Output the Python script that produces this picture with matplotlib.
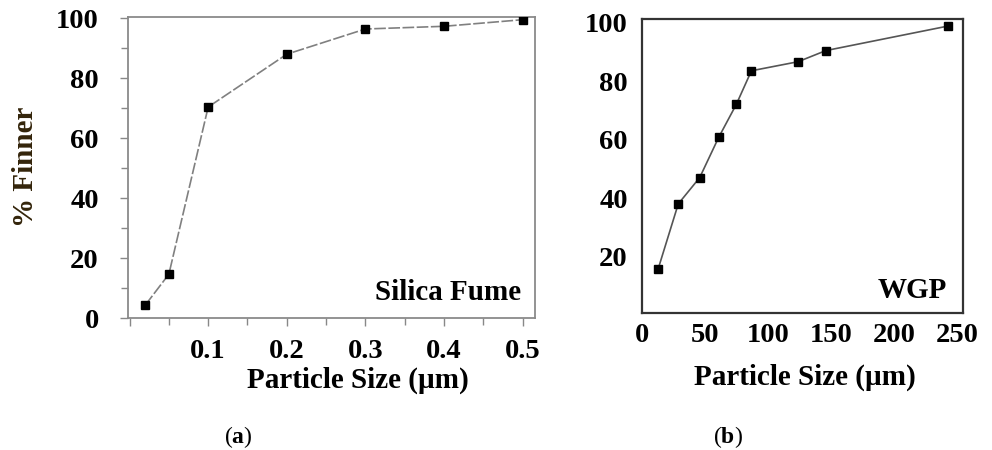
import matplotlib.pyplot as plt
import matplotlib.ticker as mticker

plt.rcParams['font.family'] = ['Liberation Serif', 'DejaVu Serif']
plt.rcParams['mathtext.fontset'] = 'custom'
plt.rcParams['mathtext.bf'] = 'Liberation Serif:bold'
plt.rcParams['mathtext.rm'] = 'Liberation Serif'

# silica fume (a)
sf_size = [0.02, 0.05, 0.1, 0.2, 0.3, 0.4, 0.5]
sf_finer = [4.4, 14.7, 70.4, 88.0, 96.4, 97.3, 99.5]
sf_xticks = [0, 0.1, 0.2, 0.3, 0.4, 0.5]
sf_xlabels = ['', '0.1', '0.2', '0.3', '0.4', '0.5']
sf_yticks = [0, 20, 40, 60, 80, 100]

# waste glass powder (b)
wgp_size = [13, 29, 46, 61, 75, 87, 124, 146, 243]
wgp_finer = [15.7, 38.0, 47.0, 60.7, 72.0, 83.5, 86.6, 90.4, 98.8]
wgp_xticks = [0, 50, 100, 150, 200, 250]
wgp_yticks = [20, 40, 60, 80, 100]

W, H = 992, 450
fig = plt.figure(figsize=(W / 100, H / 100), dpi=100)

def box(l, t, r, b):
    return [l / W, 1 - b / H, (r - l) / W, (b - t) / H]

tick_font = dict(fontsize=20.5, fontweight='bold')
lab_font = dict(fontsize=21, fontweight='bold')

# ---- (a)
ax1 = fig.add_axes(box(128, 17.3, 535, 318.3))
ax1.plot(sf_size, sf_finer, color='#808080', lw=1.2, ls=(0, (7, 1.5)),
         marker='s', ms=5.5, mfc='black', mec='black', zorder=3)
ax1.set_xlim(-0.002, 0.5158)
ax1.set_ylim(0, 100.3)
ax1.set_xticks(sf_xticks)
ax1.set_xticklabels(sf_xlabels, **tick_font)
ax1.set_yticks(sf_yticks)
ax1.set_yticklabels([str(v) for v in sf_yticks], **tick_font)
ax1.xaxis.set_minor_locator(mticker.MultipleLocator(0.05))
ax1.yaxis.set_minor_locator(mticker.MultipleLocator(10))
ax1.tick_params(which='both', direction='out', color='#888888', width=1)
ax1.tick_params(which='major', length=6)
ax1.tick_params(which='minor', length=5)
ax1.tick_params(axis='y', which='major', pad=15)
ax1.tick_params(axis='x', which='major', pad=9)
for s in ax1.spines.values():
    s.set_color('#8a8a8a')
    s.set_linewidth(1.3)
ax1.set_xlabel('Particle Size (µm)', va='center', **lab_font)
ax1.xaxis.set_label_coords(0.565, -0.206)
ax1.set_ylabel('% Finner', va='center', color='#33240a', **lab_font)
ax1.yaxis.set_label_coords(-0.253, 0.502)
ax1.text(0.966, 0.086, 'Silica Fume', transform=ax1.transAxes,
         ha='right', va='center', **lab_font)

# ---- (b)
ax2 = fig.add_axes(box(641.7, 19, 963.3, 313.3))
ax2.plot(wgp_size, wgp_finer, color='#555555', lw=1.2,
         marker='s', ms=5.5, mfc='black', mec='black', zorder=3)
ax2.set_xlim(0, 255)
ax2.set_ylim(0.6, 101.2)
ax2.set_xticks(wgp_xticks)
ax2.set_xticklabels([str(v) for v in wgp_xticks], **tick_font)
ax2.set_yticks(wgp_yticks)
ax2.set_yticklabels([str(v) for v in wgp_yticks], **tick_font)
ax2.tick_params(length=0)
ax2.tick_params(axis='y', pad=10)
ax2.tick_params(axis='x', pad=7)
for s in ax2.spines.values():
    s.set_color('#333333')
    s.set_linewidth(1.6)
ax2.set_xlabel('Particle Size (µm)', va='center', **lab_font)
ax2.xaxis.set_label_coords(0.508, -0.216)
ax2.text(0.95, 0.077, 'WGP', transform=ax2.transAxes,
         ha='right', va='center', **lab_font)

fig.text(238 / W, 1 - 437 / H, r'($\mathbf{a}$)', ha='center', va='center', fontsize=17)
fig.text(728 / W, 1 - 437 / H, r'($\mathbf{b}$)', ha='center', va='center', fontsize=17)

fig.savefig('out.png', dpi=100)
